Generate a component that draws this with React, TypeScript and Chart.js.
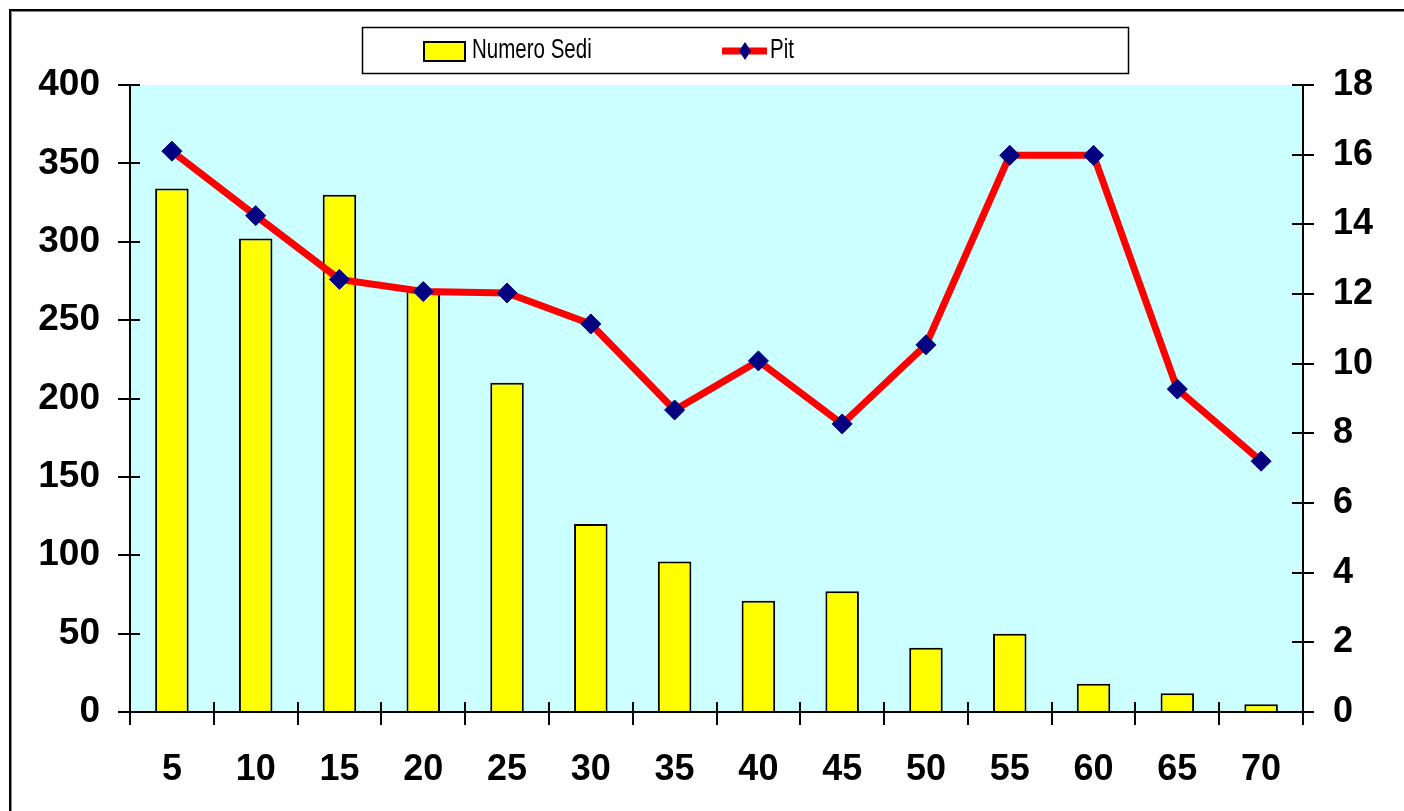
import React, { useEffect, useRef } from "react";
import { Chart, registerables } from "chart.js";

Chart.register(...registerables);

const categories = ["5", "10", "15", "20", "25", "30", "35", "40", "45", "50", "55", "60", "65", "70"];
const numeroSedi = [334, 302, 330, 269, 210, 120, 96, 71, 77, 41, 50, 18, 12, 5];
const pit = [16.1, 14.25, 12.42, 12.07, 12.03, 11.14, 8.67, 10.08, 8.27, 10.54, 15.98, 15.98, 9.27, 7.2];
const leftTicks = { min: 0, max: 400, step: 50 };
const rightTicks = { min: 0, max: 18, step: 2 };

const FONT = '"Liberation Sans", Arial, sans-serif';

const decorPlugin = {
  id: "decor",
  beforeDraw(chart: any) {
    const { ctx, chartArea } = chart;
    ctx.save();
    ctx.fillStyle = "#CCFFFF";
    ctx.fillRect(chartArea.left, chartArea.top, chartArea.right - chartArea.left, chartArea.bottom - chartArea.top);
    ctx.restore();
  },
  afterDraw(chart: any) {
    const { ctx, chartArea } = chart;
    const y = chart.scales.y;
    const y1 = chart.scales.y1;
    ctx.save();
    ctx.strokeStyle = "#000";
    ctx.lineWidth = 2;
    ctx.beginPath();
    ctx.moveTo(chartArea.left, chartArea.top);
    ctx.lineTo(chartArea.left, chartArea.bottom);
    ctx.moveTo(chartArea.right, chartArea.top);
    ctx.lineTo(chartArea.right, chartArea.bottom);
    ctx.moveTo(chartArea.left - 12, chartArea.bottom);
    ctx.lineTo(chartArea.right + 11, chartArea.bottom);
    ctx.stroke();
    ctx.beginPath();
    y.ticks.forEach((t: any) => {
      const py = Math.round(y.getPixelForValue(t.value));
      ctx.moveTo(chartArea.left - 12, py);
      ctx.lineTo(chartArea.left + 10, py);
    });
    y1.ticks.forEach((t: any) => {
      const py = Math.round(y1.getPixelForValue(t.value));
      ctx.moveTo(chartArea.right - 11, py);
      ctx.lineTo(chartArea.right + 11, py);
    });
    const n = categories.length;
    const w = (chartArea.right - chartArea.left) / n;
    for (let i = 0; i <= n; i++) {
      const px = Math.round(chartArea.left + i * w);
      ctx.moveTo(px, chartArea.bottom - 10);
      ctx.lineTo(px, chartArea.bottom + 13);
    }
    ctx.stroke();

    // legend
    ctx.lineWidth = 1.5;
    ctx.strokeStyle = "#000";
    ctx.fillStyle = "#fff";
    ctx.fillRect(362, 27, 766, 46);
    ctx.strokeRect(362.5, 27.5, 766, 46);
    ctx.fillStyle = "#FFFF00";
    ctx.fillRect(424, 42, 41, 19);
    ctx.lineWidth = 2;
    ctx.strokeRect(424, 42, 41, 19);
    ctx.fillStyle = "#000";
    ctx.font = '27px "Liberation Sans", Arial, sans-serif';
    ctx.textBaseline = "middle";
    ctx.textAlign = "left";
    ctx.save();
    ctx.translate(472, 51);
    ctx.scale(0.76, 1);
    ctx.fillText("Numero Sedi", 0, 0);
    ctx.restore();
    ctx.save();
    ctx.translate(770, 51);
    ctx.scale(0.76, 1);
    ctx.fillText("Pit", 0, 0);
    ctx.restore();
    ctx.strokeStyle = "#FF0000";
    ctx.lineWidth = 7;
    ctx.beginPath();
    ctx.moveTo(722, 51);
    ctx.lineTo(767, 51);
    ctx.stroke();
    ctx.fillStyle = "#000080";
    ctx.beginPath();
    ctx.moveTo(745, 42);
    ctx.lineTo(751, 51);
    ctx.lineTo(745, 60);
    ctx.lineTo(739, 51);
    ctx.closePath();
    ctx.fill();

    // outer frame
    ctx.fillStyle = "#000";
    ctx.fillRect(9, 9, 1404, 2);
    ctx.fillRect(9, 9, 2, 811);
    ctx.fillStyle = "#888";
    ctx.fillRect(11, 11, 1404, 1);
    ctx.fillRect(11, 11, 1, 811);
    ctx.restore();
  },
};

export default function App() {
  const ref = useRef<HTMLCanvasElement | null>(null);
  useEffect(() => {
    if (!ref.current) return;
    const chart = new Chart(ref.current, {
      type: "bar",
      data: {
        labels: categories,
        datasets: [
          {
            type: "line",
            label: "Pit",
            data: pit,
            yAxisID: "y1",
            borderColor: "#FF0000",
            borderWidth: 7,
            tension: 0,
            pointStyle: "rectRot",
            pointRadius: 10,
            pointBackgroundColor: "#000080",
            pointBorderColor: "#000080",
            pointBorderWidth: 1,
            order: 0,
          } as any,
          {
            type: "bar",
            label: "Numero Sedi",
            data: numeroSedi,
            yAxisID: "y",
            backgroundColor: "#FFFF00",
            borderColor: "#000",
            borderWidth: 2,
            barPercentage: 0.4,
            categoryPercentage: 1,
            order: 1,
          },
        ],
      },
      options: {
        animation: false,
        responsive: false,
        maintainAspectRatio: false,
        layout: { padding: { top: 85, left: 0, right: 0, bottom: 0 } },
        plugins: { legend: { display: false }, tooltip: { enabled: false } },
        scales: {
          x: {
            offset: true,
            grid: { display: false, drawTicks: false },
            border: { display: false },
            ticks: { color: "#000", font: { family: FONT, size: 36, weight: "bold" }, padding: 36, maxRotation: 0 },
            afterFit: (s: any) => { s.height = 99; },
          },
          y: {
            position: "left",
            min: leftTicks.min,
            max: leftTicks.max,
            grid: { display: false, drawTicks: false },
            border: { display: false },
            ticks: { stepSize: leftTicks.step, color: "#000", font: { family: FONT, size: 37, weight: "bold" }, padding: 30 },
            afterFit: (s: any) => { s.width = 130; },
          },
          y1: {
            position: "right",
            min: rightTicks.min,
            max: rightTicks.max,
            grid: { display: false, drawTicks: false },
            border: { display: false },
            ticks: { stepSize: rightTicks.step, color: "#000", font: { family: FONT, size: 36, weight: "bold" }, padding: 30 },
            afterFit: (s: any) => { s.width = 101; },
          },
        },
      },
      plugins: [decorPlugin],
    });
    return () => chart.destroy();
  }, []);
  return (
    <div style={{ position: "fixed", left: 0, top: 0, width: 1404, height: 811, background: "#fff" }}>
      <canvas ref={ref} width={1404} height={811} style={{ display: "block", width: 1404, height: 811 }} />
    </div>
  );
}
